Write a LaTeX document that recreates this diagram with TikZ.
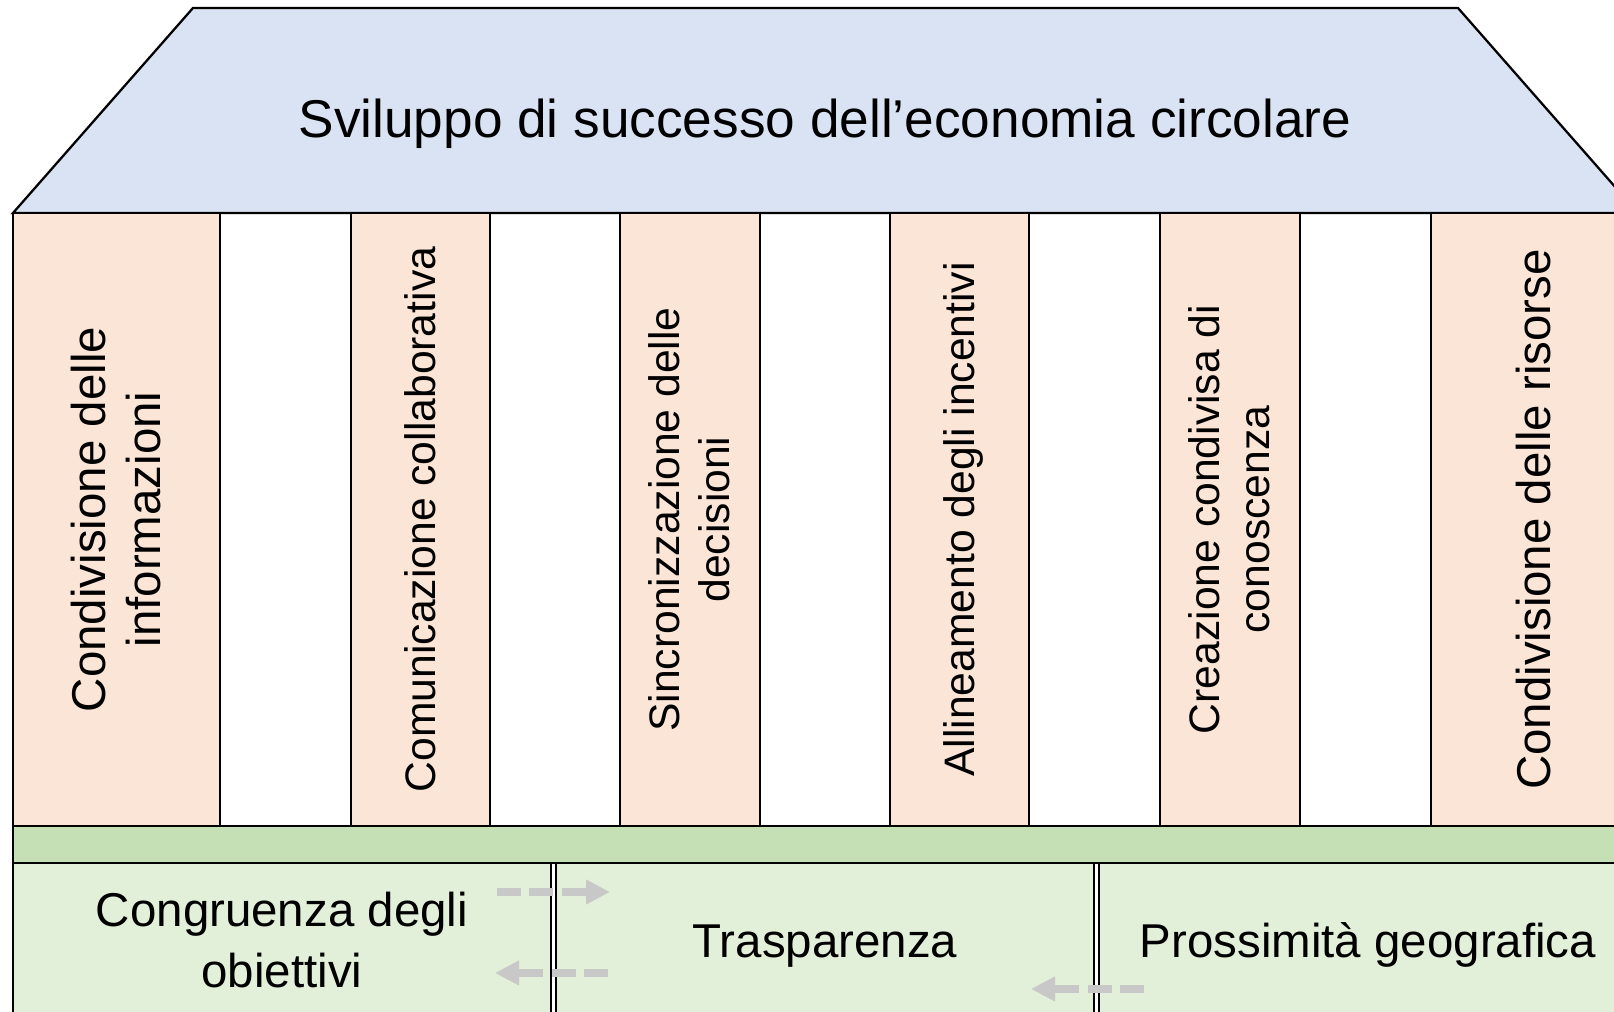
\documentclass[tikz,border=0pt]{standalone}
\usepackage{fontspec}
\setmainfont{Liberation Sans}
\usetikzlibrary{arrows.meta}
\definecolor{roofc}{HTML}{DAE3F3}
\definecolor{colc}{HTML}{FBE5D6}
\definecolor{bandc}{HTML}{C5E0B4}
\definecolor{basec}{HTML}{E2F0D9}
\definecolor{arrc}{HTML}{C8C8C8}
\newcommand\ppstrut{\rule[-0.212em]{0pt}{1.117em}}
\begin{document}
\begin{tikzpicture}[x=0.75pt,y=-0.75pt,
  edge/.style={draw=black,line width=1.7pt,line join=miter},
  roof/.style={edge,fill=roofc},
  pillar/.style={edge,fill=colc},
  band/.style={edge,fill=bandc},
  basebox/.style={edge,fill=basec},
  txt/.style={align=center,inner sep=0pt,anchor=center},
  coltxt/.style={txt,rotate=90},
  titlefont/.style={font=\fontsize{39.9}{47}\selectfont},
  bigfont/.style={font=\fontsize{35.6}{41.25}\selectfont},
  basefont/.style={font=\fontsize{35.6}{45.75}\selectfont},
  smallfont/.style={font=\fontsize{32}{37.5}\selectfont},
  flow/.style={draw=arrc,line width=6pt,dash pattern=on 18pt off 6.2pt,
    -{Triangle[length=18pt,width=17.5pt]}}
]
\useasboundingbox (0,0) rectangle (1614,1012);
\fill[white] (0,0) rectangle (1614,1012);
\clip (0,0) rectangle (1614,1012);

% roof
\draw[roof] (193,8) -- (1458,8) -- (1638,213) -- (13,213) -- cycle;

% pillars
\draw[pillar] (13,213) rectangle (220,826);
\draw[pillar] (351,213) rectangle (490,826);
\draw[pillar] (620,213) rectangle (760,826);
\draw[pillar] (890,213) rectangle (1029,826);
\draw[pillar] (1160,213) rectangle (1300,826);
\draw[pillar] (1431,213) rectangle (1638,826);

% band and base
\draw[band] (13,826) rectangle (1638,863);
\draw[basebox] (13,863) rectangle (551,1030);
\draw[basebox] (556,863) rectangle (1094,1030);
\draw[basebox] (1099,863) rectangle (1637,1030);

% texts
\node[txt,titlefont] (title) at (825,118.6) {\ppstrut Sviluppo di successo dell’economia circolare};

\node[coltxt,bigfont] (c1) at (116.5,519.5) {\ppstrut Condivisione delle\\\ppstrut informazioni};
\node[coltxt,smallfont] (c2) at (420.5,519.5) {\ppstrut Comunicazione collaborativa};
\node[coltxt,smallfont] (c3) at (690,519.5) {\ppstrut Sincronizzazione delle\\\ppstrut decisioni};
\node[coltxt,smallfont] (c4) at (959.5,519.5) {\ppstrut Allineamento degli incentivi};
\node[coltxt,smallfont] (c5) at (1230,519.5) {\ppstrut Creazione condivisa di\\\ppstrut conoscenza};
\node[coltxt,bigfont] (c6) at (1534.5,519.5) {\ppstrut Condivisione delle risorse};

\node[txt,basefont] (b1) at (282,941) {\ppstrut Congruenza degli\\\ppstrut obiettivi};
\node[txt,basefont] (b2) at (825,941) {\ppstrut Trasparenza};
\node[txt,basefont] (b3) at (1368,941) {\ppstrut Prossimità geografica};

% arrows
\coordinate (a1s) at (497,892);
\coordinate (a1e) at (610,892);
\coordinate (a2s) at (608,973);
\coordinate (a2e) at (495,973);
\coordinate (a3s) at (1144,989);
\coordinate (a3e) at (1031,989);
\draw[flow] (a1s) -- (a1e);
\draw[flow] (a2s) -- (a2e);
\draw[flow] (a3s) -- (a3e);
\end{tikzpicture}
\end{document}
